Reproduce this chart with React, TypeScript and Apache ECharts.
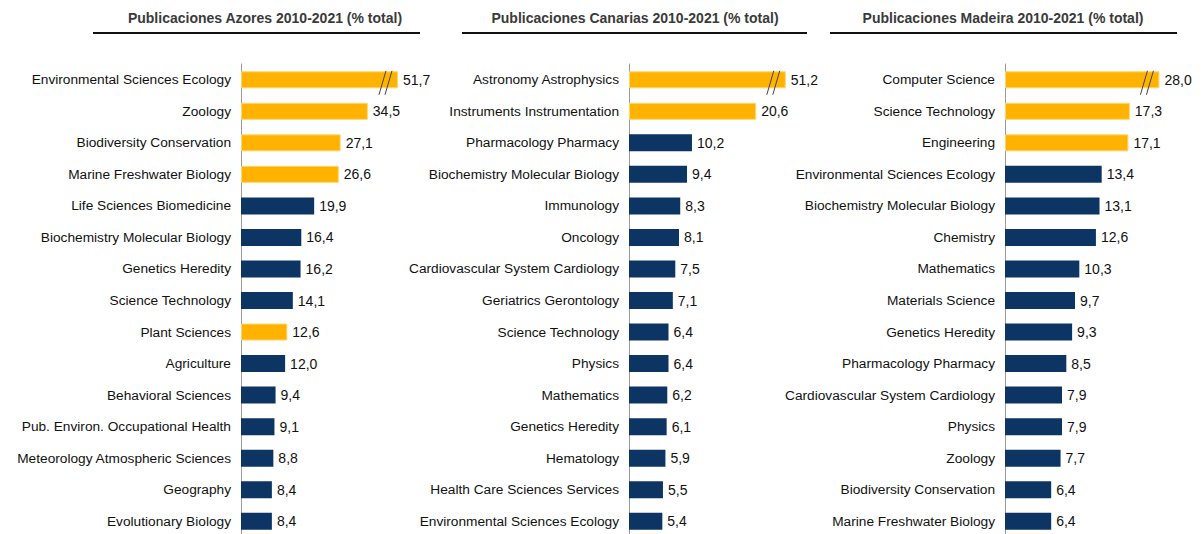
import React, { useEffect, useRef } from "react";
import * as echarts from "echarts";

// ---- Data ----
const azoresCategories = [
  "Environmental Sciences Ecology", "Zoology", "Biodiversity Conservation", "Marine Freshwater Biology",
  "Life Sciences Biomedicine", "Biochemistry Molecular Biology", "Genetics Heredity", "Science Technology",
  "Plant Sciences", "Agriculture", "Behavioral Sciences", "Pub. Environ. Occupational Health",
  "Meteorology Atmospheric Sciences", "Geography", "Evolutionary Biology",
];
const azoresValues = [51.7, 34.5, 27.1, 26.6, 19.9, 16.4, 16.2, 14.1, 12.6, 12.0, 9.4, 9.1, 8.8, 8.4, 8.4];
const azoresHighlight = ["Environmental Sciences Ecology", "Zoology", "Biodiversity Conservation", "Marine Freshwater Biology", "Plant Sciences"];

const canariasCategories = [
  "Astronomy Astrophysics", "Instruments Instrumentation", "Pharmacology Pharmacy", "Biochemistry Molecular Biology",
  "Immunology", "Oncology", "Cardiovascular System Cardiology", "Geriatrics Gerontology", "Science Technology",
  "Physics", "Mathematics", "Genetics Heredity", "Hematology", "Health Care Sciences Services", "Environmental Sciences Ecology",
];
const canariasValues = [51.2, 20.6, 10.2, 9.4, 8.3, 8.1, 7.5, 7.1, 6.4, 6.4, 6.2, 6.1, 5.9, 5.5, 5.4];
const canariasHighlight = ["Astronomy Astrophysics", "Instruments Instrumentation"];

const madeiraCategories = [
  "Computer Science", "Science Technology", "Engineering", "Environmental Sciences Ecology",
  "Biochemistry Molecular Biology", "Chemistry", "Mathematics", "Materials Science", "Genetics Heredity",
  "Pharmacology Pharmacy", "Cardiovascular System Cardiology", "Physics", "Zoology", "Biodiversity Conservation",
  "Marine Freshwater Biology",
];
const madeiraValues = [28.0, 17.3, 17.1, 13.4, 13.1, 12.6, 10.3, 9.7, 9.3, 8.5, 7.9, 7.9, 7.7, 6.4, 6.4];
const madeiraHighlight = ["Computer Science", "Science Technology", "Engineering"];

const titles = [
  "Publicaciones Azores 2010-2021 (% total)",
  "Publicaciones Canarias 2010-2021 (% total)",
  "Publicaciones Madeira 2010-2021 (% total)",
];
// value at which an over-long bar is cut (broken axis)
const breakValues = [42.7, 25.4, 21.4];
const axisMax = [54.4, 32.4, 27.3];

const ORANGE = "#FFB300";
const NAVY = "#0C3563";

const panels = [
  { cats: azoresCategories, vals: azoresValues, hi: azoresHighlight, left: 241, titleX: 265, lineX: [93, 420] },
  { cats: canariasCategories, vals: canariasValues, hi: canariasHighlight, left: 629, titleX: 635, lineX: [462, 807] },
  { cats: madeiraCategories, vals: madeiraValues, hi: madeiraHighlight, left: 1005, titleX: 1003, lineX: [830, 1177] },
];

const fmt = (v: number) => v.toFixed(1).replace(".", ",");

export default function App() {
  const ref = useRef<HTMLDivElement>(null);
  useEffect(() => {
    if (!ref.current) return;
    const chart = echarts.init(ref.current, undefined, { renderer: "svg" });
    const grid: any[] = [];
    const xAxis: any[] = [];
    const yAxis: any[] = [];
    const series: any[] = [];
    const graphic: any[] = [];
    panels.forEach((p, i) => {
      grid.push({ left: p.left, width: 200, top: 64, bottom: 3, containLabel: false });
      xAxis.push({ type: "value", gridIndex: i, min: 0, max: axisMax[i], show: false });
      yAxis.push({
        type: "category", gridIndex: i, inverse: true, data: p.cats,
        axisTick: { show: false },
        axisLine: { show: true, lineStyle: { color: "#9a9a9a", width: 1 } },
        axisLabel: { color: "#111", fontSize: 13.7, fontFamily: "Liberation Sans, Arial, sans-serif", margin: 10 },
      });
      const cap = breakValues[i];
      series.push({
        type: "bar", xAxisIndex: i, yAxisIndex: i, barWidth: 17,
        data: p.vals.map((v, j) => ({
          value: Math.min(v, cap),
          realValue: v,
          itemStyle: p.hi.includes(p.cats[j])
            ? { color: ORANGE, borderColor: "#FFD56E", borderWidth: 1 }
            : { color: NAVY },
        })),
        label: {
          show: true, position: "right", distance: 5, color: "#111", fontSize: 14,
          fontFamily: "Liberation Sans, Arial, sans-serif",
          formatter: (prm: any) => fmt(prm.data.realValue),
        },
      });
      series.push({
        type: "custom", xAxisIndex: i, yAxisIndex: i, z: 5,
        data: p.vals.map((v, j) => (v > cap ? [cap, j] : null)).filter((d) => d !== null),
        renderItem: (params: any, api: any) => {
          const pt = api.coord([api.value(0), api.value(1)]);
          const st = { stroke: "#444", lineWidth: 1 };
          return {
            type: "group",
            children: [
              { type: "line", shape: { x1: pt[0] - 12, y1: pt[1] - 9, x2: pt[0] - 19, y2: pt[1] + 15 }, style: st },
              { type: "line", shape: { x1: pt[0] - 6, y1: pt[1] - 9, x2: pt[0] - 13, y2: pt[1] + 15 }, style: st },
            ],
          };
        },
      });
      graphic.push({
        type: "text", x: p.titleX, y: 18,
        style: {
          text: titles[i], textAlign: "center", textVerticalAlign: "middle",
          fontSize: 14, fontWeight: "bold", fontFamily: "Liberation Sans, Arial, sans-serif",
          fill: "#3a3a3a",
        },
      });
      graphic.push({
        type: "line", shape: { x1: p.lineX[0], y1: 33, x2: p.lineX[1], y2: 33 },
        style: { stroke: "#111", lineWidth: 2 },
      });
    });
    chart.setOption({ animation: false, grid, xAxis, yAxis, series, graphic });
    return () => chart.dispose();
  }, []);
  return (
    <div
      ref={ref}
      style={{ position: "absolute", left: 0, top: 0, width: 1202, height: 540, background: "#fff" }}
    />
  );
}
